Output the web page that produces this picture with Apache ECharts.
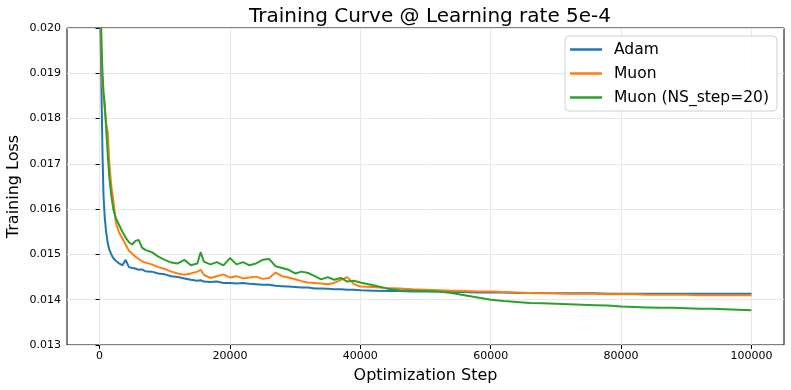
<!DOCTYPE html>
<html>
<head>
<meta charset="utf-8">
<script src="https://cdn.jsdelivr.net/npm/echarts@6/dist/echarts.min.js"></script>
<style>
  html, body { margin: 0; padding: 0; background: #fff; }
  #main { width: 791px; height: 390px; }
</style>
</head>
<body>
<div id="main"></div>
<script>
// training steps (shared by all three runs)
var steps = [0, 150, 300, 450, 600, 800, 1000, 1250, 1500, 1800, 2100, 2500, 3000, 3500, 4000, 4500, 5000, 5500, 6000, 6500, 7000,
  8000, 9000, 10000, 11000, 12000, 13000, 14000, 15000, 15500,
  16000, 17000, 18000, 19000, 20000, 21000, 22000, 23000, 24000, 25000, 26000, 27000, 28000, 29000, 30000,
  31000, 32000, 33000, 34000, 35000, 36000, 37000, 38000, 39000, 40000,
  42000, 44000, 46000, 48000, 50000, 52000, 54000, 56000, 58000, 60000, 62000, 64000, 66000, 68000, 70000,
  72000, 74000, 76000, 78000, 80000, 82000, 84000, 86000, 88000, 90000, 92000, 94000, 96000, 98000, 100000];

var adam = [0.0225, 0.0199, 0.0185, 0.0172, 0.0163, 0.0158, 0.0155, 0.01525, 0.01510, 0.01500, 0.01492, 0.01486, 0.01480, 0.01476, 0.01488, 0.01472, 0.01470, 0.01469, 0.01466, 0.01467, 0.01463,
  0.01462, 0.01458, 0.01456, 0.01452, 0.01450, 0.01447, 0.01444, 0.01442, 0.01443,
  0.01440, 0.01439, 0.01440, 0.01437, 0.01437, 0.01436, 0.01437, 0.01435, 0.01434, 0.01433, 0.01433, 0.01431, 0.01430, 0.01429, 0.01428,
  0.01427, 0.01427, 0.01425, 0.01425, 0.01424, 0.01423, 0.01423, 0.01422, 0.01422, 0.01421,
  0.01420, 0.01419, 0.01419, 0.01418, 0.01418, 0.01418, 0.01417, 0.01417, 0.01416, 0.01416, 0.01416, 0.01415, 0.01415, 0.01415, 0.01414,
  0.01414, 0.01414, 0.01414, 0.01413, 0.01413, 0.01413, 0.01413, 0.01413, 0.01413, 0.01413, 0.01413, 0.01413, 0.01413, 0.01413, 0.01413];

var muon = [0.0230, 0.0205, 0.0193, 0.0187, 0.0185, 0.0182, 0.0179, 0.0177, 0.0170, 0.0165, 0.0162, 0.0157, 0.01548, 0.01535, 0.01522, 0.01508, 0.01502, 0.01495, 0.01490, 0.01485, 0.01482,
  0.01478, 0.01472, 0.01468, 0.01462, 0.01458, 0.01455, 0.01458, 0.01462, 0.01466,
  0.01455, 0.01448, 0.01452, 0.01456, 0.01449, 0.01452, 0.01447, 0.01449, 0.01451, 0.01446, 0.01448, 0.01460, 0.01452, 0.01449, 0.01445,
  0.01441, 0.01438, 0.01437, 0.01436, 0.01434, 0.01437, 0.01444, 0.01450, 0.01435, 0.01429,
  0.01428, 0.01426, 0.01425, 0.01423, 0.01422, 0.01421, 0.01420, 0.01419, 0.01418, 0.01418, 0.01417, 0.01416, 0.01415, 0.01414, 0.01414,
  0.01413, 0.01413, 0.01413, 0.01412, 0.01412, 0.01412, 0.01411, 0.01411, 0.01411, 0.01411, 0.01410, 0.01410, 0.01410, 0.01410, 0.01410];

var muonNs20 = [0.0232, 0.0207, 0.0196, 0.0190, 0.0186, 0.0183, 0.0178, 0.0172, 0.0167, 0.0163, 0.0160, 0.0158, 0.01565, 0.01550, 0.01537, 0.01527, 0.01522, 0.01530, 0.01532, 0.01515, 0.01510,
  0.01505, 0.01495, 0.01488, 0.01482, 0.01480, 0.01488, 0.01476, 0.01480, 0.01505,
  0.01484, 0.01478, 0.01483, 0.01476, 0.01492, 0.01478, 0.01483, 0.01476, 0.01480, 0.01488, 0.01490, 0.01474, 0.01470, 0.01466, 0.01458,
  0.01462, 0.01459, 0.01452, 0.01445, 0.01450, 0.01444, 0.01448, 0.01440, 0.01442, 0.01438,
  0.01432, 0.01425, 0.01421, 0.01420, 0.01419, 0.01418, 0.01415, 0.01410, 0.01405, 0.01400, 0.01397, 0.01395, 0.01393, 0.01392, 0.01391,
  0.01390, 0.01389, 0.01388, 0.01387, 0.01385, 0.01384, 0.01383, 0.01382, 0.01382, 0.01381, 0.01380, 0.01380, 0.01379, 0.01378, 0.01377];

var xTicks = [0, 20000, 40000, 60000, 80000, 100000];
var yTicks = [0.013, 0.014, 0.015, 0.016, 0.017, 0.018, 0.019, 0.020];

function pairs(ys) {
  return steps.map(function (s, i) { return [s, ys[i]]; });
}

var font = 'DejaVu Sans';
var chart = echarts.init(document.getElementById('main'));

chart.setOption({
  animation: false,
  textStyle: { fontFamily: font },
  title: {
    text: 'Training Curve @ Learning rate 5e-4',
    left: 425, top: 2, textAlign: 'center',
    textStyle: { fontFamily: font, fontSize: 20, fontWeight: 'normal', color: '#000' }
  },
  legend: {
    orient: 'vertical',
    left: 565, top: 36,
    padding: [5, 8, 5, 5],
    itemGap: 7,
    itemWidth: 32, itemHeight: 2.5,
    icon: 'rect',
    borderColor: '#d0d0d0', borderWidth: 1, borderRadius: 4,
    backgroundColor: 'rgba(255,255,255,0.85)',
    textStyle: { fontFamily: font, fontSize: 15.5, color: '#000', padding: [0, 0, 0, 7], lineHeight: 17 },
    data: ['Adam', 'Muon', 'Muon (NS_step=20)']
  },
  grid: {
    left: 67, right: 7, top: 28, bottom: 45,
    show: true, borderColor: '#000', borderWidth: 1,
    outerBoundsMode: 'none'
  },
  xAxis: {
    type: 'value', min: -5000, max: 105000,
    name: 'Optimization Step', nameLocation: 'middle', nameGap: 23, nameMoveOverlap: false,
    nameTextStyle: { fontFamily: font, fontSize: 16, color: '#000' },
    axisLine: { show: false },
    axisTick: { show: true, length: 4, lineStyle: { color: '#000' }, customValues: xTicks },
    axisLabel: { customValues: xTicks, fontSize: 11, color: '#000', margin: 6,
      formatter: function (v) { return String(v); } },
    splitLine: { show: true, lineStyle: { color: '#e8e8e8', width: 1 } }
  },
  yAxis: {
    type: 'value', min: 0.013, max: 0.020,
    name: 'Training Loss', nameLocation: 'middle', nameGap: 45, nameMoveOverlap: false,
    nameTextStyle: { fontFamily: font, fontSize: 16, color: '#000' },
    axisLine: { show: false },
    axisTick: { show: true, length: 4, lineStyle: { color: '#000' }, customValues: yTicks },
    axisLabel: { customValues: yTicks, fontSize: 11, color: '#000', margin: 6,
      formatter: function (v) { return v.toFixed(3); } },
    splitLine: { show: true, lineStyle: { color: '#e8e8e8', width: 1 } }
  },
  series: [
    { name: 'Adam', type: 'line', data: pairs(adam), showSymbol: false, symbol: 'none',
      lineStyle: { width: 2, color: '#1f77b4' }, itemStyle: { color: '#1f77b4' }, clip: true },
    { name: 'Muon', type: 'line', data: pairs(muon), showSymbol: false, symbol: 'none',
      lineStyle: { width: 2, color: '#ff7f0e' }, itemStyle: { color: '#ff7f0e' }, clip: true },
    { name: 'Muon (NS_step=20)', type: 'line', data: pairs(muonNs20), showSymbol: false, symbol: 'none',
      lineStyle: { width: 2, color: '#2ca02c' }, itemStyle: { color: '#2ca02c' }, clip: true }
  ]
});
</script>
</body>
</html>
